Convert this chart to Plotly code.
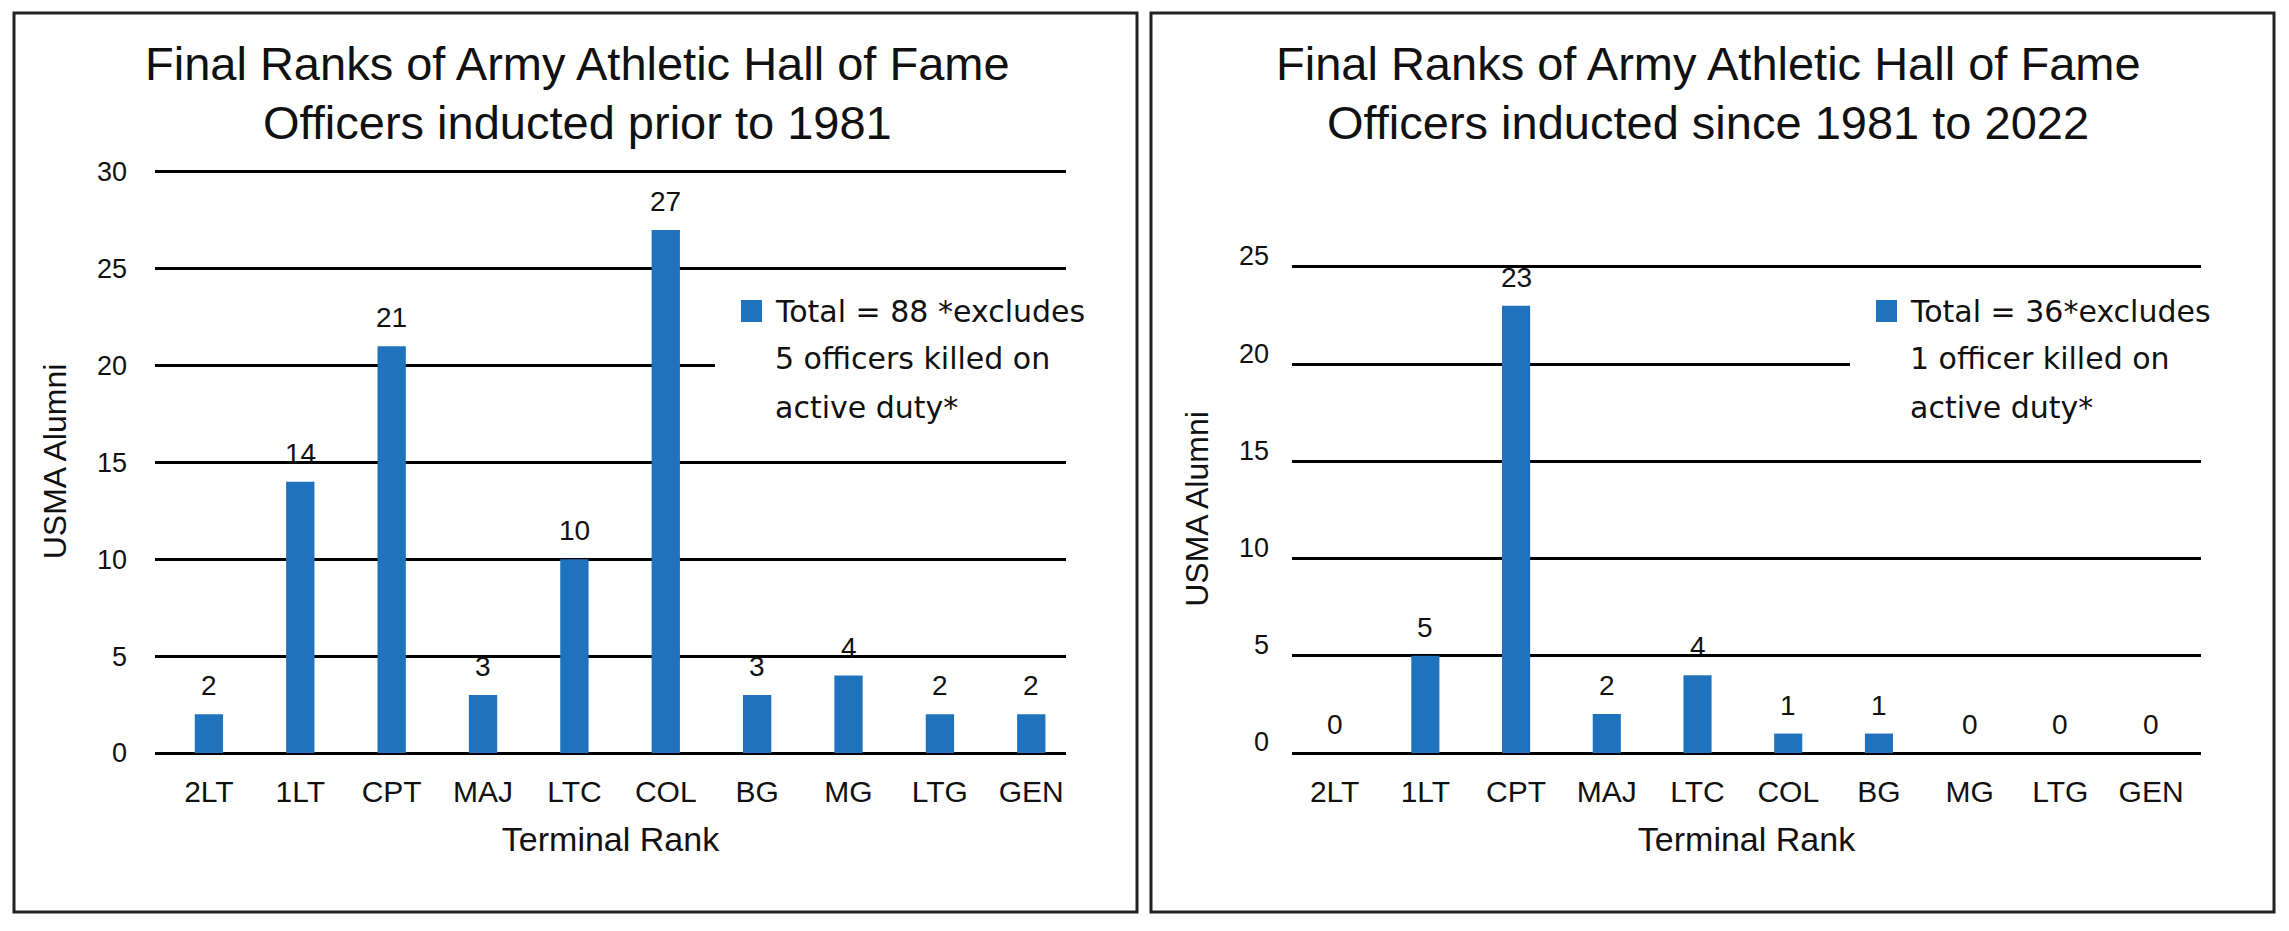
import plotly.graph_objects as go

W, H = 2289, 931
OFF = 8  # the page body margin shifts the figure by 8 px; positions below are screen px

# ---------------- data ----------------
ranks = ["2LT", "1LT", "CPT", "MAJ", "LTC", "COL", "BG", "MG", "LTG", "GEN"]
inducted_before_1981 = [2, 14, 21, 3, 10, 27, 3, 4, 2, 2]
inducted_1981_2022 = [0, 5, 23, 2, 4, 1, 1, 0, 0, 0]

y_ticks_left = [0, 5, 10, 15, 20, 25, 30]
y_ticks_right = [0, 5, 10, 15, 20, 25]

title_left = ["Final Ranks of Army Athletic Hall of Fame", "Officers inducted prior to 1981"]
title_right = ["Final Ranks of Army Athletic Hall of Fame", "Officers inducted since 1981 to 2022"]
legend_left = ["Total = 88 *excludes", "5 officers killed on", "active duty*"]
legend_right = ["Total = 36*excludes", "1 officer killed on", "active duty*"]
x_title = "Terminal Rank"
y_title = "USMA Alumni"

# ---------------- style ----------------
BLUE = "#1f73bc"
INK = "#111111"
FONT = "Liberation Sans, Arial, Helvetica, sans-serif"
LEG_FONT = "DejaVu Sans, Verdana, sans-serif"


def px(x):
    return (x - OFF) / W


def py(y):
    return 1 - (y - OFF) / H


fig = go.Figure()
fig.add_trace(go.Bar(x=list(range(len(ranks))), y=inducted_before_1981, width=0.31,
                     marker=dict(color=BLUE, line=dict(width=0)),
                     name=legend_left[0], showlegend=False, xaxis="x", yaxis="y"))
fig.add_trace(go.Bar(x=list(range(len(ranks))), y=inducted_1981_2022, width=0.31,
                     marker=dict(color=BLUE, line=dict(width=0)),
                     name=legend_right[0], showlegend=False, xaxis="x2", yaxis="y2"))

annotations = []
# value labels above bars
for xa, ya, vals in (("x", "y", inducted_before_1981), ("x2", "y2", inducted_1981_2022)):
    for i, v in enumerate(vals):
        annotations.append(dict(x=i, y=v, xref=xa, yref=ya, text=str(v), showarrow=False,
                                yanchor="bottom", yshift=11,
                                font=dict(family=FONT, size=28, color=INK)))

# chart titles (two lines each)
for cx, lines in ((577, title_left), (1708, title_right)):
    for k, t in enumerate(lines):
        annotations.append(dict(x=px(cx), y=py(63 + 59 * k), xref="paper", yref="paper", text=t,
                                showarrow=False, xanchor="center", yanchor="middle",
                                font=dict(family=FONT, size=47, color=INK)))

shapes = []
# custom legend boxes
for mx, lines in ((741, legend_left), (1876, legend_right)):
    # white legend background hides the gridline behind the legend (no bar reaches it)
    shapes.append(dict(type="rect", xref="paper", yref="paper", layer="above",
                       x0=px(mx - 26), x1=px(mx + 360), y0=py(440), y1=py(288),
                       fillcolor="white", line=dict(width=0)))
    shapes.append(dict(type="rect", xref="paper", yref="paper", layer="above",
                       x0=px(mx), x1=px(mx + 21), y0=py(322), y1=py(300),
                       fillcolor=BLUE, line=dict(width=0)))
    for k, line in enumerate(lines):
        annotations.append(dict(x=px(mx + 32), y=py(311 + 48 * k), xref="paper", yref="paper",
                                text=line, showarrow=False, xanchor="left", yanchor="middle",
                                font=dict(family=LEG_FONT, size=30, color=INK)))

# panel borders
for x0, x1 in ((14, 1137), (1151, 2274)):
    shapes.append(dict(type="rect", xref="paper", yref="paper", layer="above",
                       x0=px(x0), x1=px(x1), y0=py(912), y1=py(13),
                       fillcolor="rgba(0,0,0,0)", line=dict(color="#222222", width=3)))

axis_common = dict(showline=False, ticks="", color=INK, automargin=False)

fig.update_layout(
    width=W, height=H,
    margin=dict(l=0, r=0, t=0, b=0, autoexpand=False),
    paper_bgcolor="white", plot_bgcolor="white",
    showlegend=False,
    font=dict(family=FONT, color=INK),
    xaxis=dict(domain=[px(155), px(1066)], range=[-0.59, 9.38], anchor="y",
               tickmode="array", tickvals=list(range(len(ranks))), ticktext=ranks,
               tickfont=dict(size=30, family=FONT), showgrid=False, zeroline=False,
               ticklabelstandoff=18,
               title=dict(text=x_title, font=dict(size=34, family=FONT), standoff=20),
               **axis_common),
    yaxis=dict(domain=[py(753), py(170)], range=[0, 30.1], anchor="x",
               tickmode="array", tickvals=y_ticks_left,
               tickfont=dict(size=27, family=FONT),
               showgrid=True, gridcolor="black", gridwidth=2.5,
               zeroline=True, zerolinecolor="black", zerolinewidth=2.5,
               ticklabelstandoff=27,
               title=dict(text=y_title, font=dict(size=32, family=FONT), standoff=20),
               **axis_common),
    xaxis2=dict(domain=[px(1292), px(2201)], range=[-0.47, 9.55], anchor="y2",
                tickmode="array", tickvals=list(range(len(ranks))), ticktext=ranks,
                tickfont=dict(size=30, family=FONT), showgrid=False, zeroline=False,
                ticklabelstandoff=18,
                title=dict(text=x_title, font=dict(size=34, family=FONT), standoff=20),
                **axis_common),
    yaxis2=dict(domain=[py(753), py(265)], range=[0, 25.1], anchor="x2",
                tickmode="array", tickvals=y_ticks_right,
                tickfont=dict(size=27, family=FONT),
                showgrid=True, gridcolor="black", gridwidth=2.5,
                zeroline=True, zerolinecolor="black", zerolinewidth=2.5,
                ticklabelstandoff=22, ticklabelshift=-11,
                title=dict(text=y_title, font=dict(size=32, family=FONT), standoff=20),
                **axis_common),
    annotations=annotations,
    shapes=shapes,
)

fig.write_html("out.html")
